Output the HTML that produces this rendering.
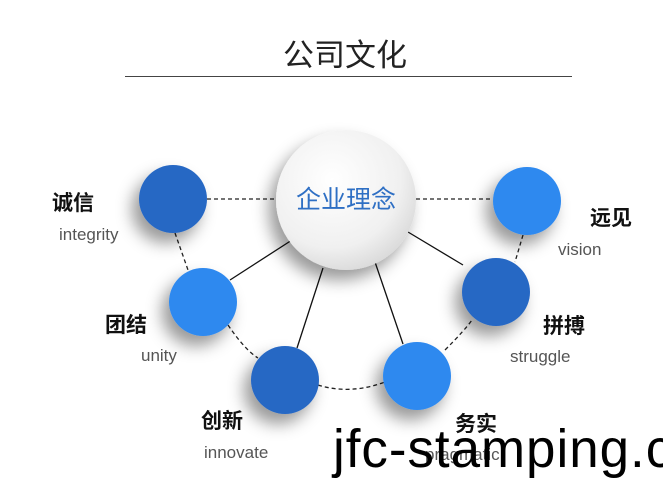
<!DOCTYPE html>
<html><head><meta charset="utf-8"><style>
html,body{margin:0;padding:0;background:#fff;width:663px;height:502px;overflow:hidden;position:relative;font-family:"Liberation Sans","Noto Sans CJK SC",sans-serif}
.t{position:absolute;white-space:nowrap}
.cn{font-size:21px;color:#111;font-weight:bold}
.en{font-size:17px;color:#555}
</style></head><body>
<div class="t" style="left:0;width:690px;text-align:center;top:30px;font-size:31px;color:#222">公司文化</div>
<div style="position:absolute;left:125px;top:76px;width:447px;height:1px;background:#444"></div>
<svg width="663" height="502" style="position:absolute;left:0;top:0">
<defs>
<filter id="sh" x="-50%" y="-50%" width="200%" height="200%"><feDropShadow dx="-7" dy="10" stdDeviation="8" flood-color="#000" flood-opacity="0.4"/></filter>
<radialGradient id="g" cx="40%" cy="35%" r="70%"><stop offset="0" stop-color="#ffffff"/><stop offset="0.7" stop-color="#f0f0f0"/><stop offset="1" stop-color="#d8d8d8"/></radialGradient>
</defs>
<g stroke="#222" stroke-width="1.3" stroke-dasharray="4,3" fill="none">
<line x1="207" y1="199" x2="276" y2="199"/><line x1="416" y1="199" x2="493" y2="199"/>
<path d="M175 233 L188 270"/><path d="M228 325 Q245 350 258 358"/>
<path d="M318 385 Q350 395 385 382"/><path d="M445 350 Q465 330 472 320"/>
<path d="M523 235 L515 262"/>
</g>
<g stroke="#111" stroke-width="1.3">
<line x1="230" y1="280" x2="292" y2="240"/><line x1="297" y1="348" x2="323" y2="268"/>
<line x1="403" y1="344" x2="375" y2="262"/><line x1="463" y1="265" x2="408" y2="232"/>
</g>
<g filter="url(#sh)">
<circle cx="173" cy="199" r="34" fill="#2767c4"/>
<circle cx="203" cy="302" r="34" fill="#2f89ef"/>
<circle cx="285" cy="380" r="34" fill="#2767c4"/>
<circle cx="417" cy="376" r="34" fill="#2f89ef"/>
<circle cx="496" cy="292" r="34" fill="#2767c4"/>
<circle cx="527" cy="201" r="34" fill="#2f89ef"/>
<circle cx="346" cy="200" r="70" fill="url(#g)"/>
</g>
</svg>
<div class="t" style="left:296px;top:180px;font-size:25px;color:#2e6fc4">企业理念</div>
<div class="t cn" style="left:52px;top:187px">诚信</div><div class="t en" style="left:59px;top:225px">integrity</div>
<div class="t cn" style="left:105px;top:309px">团结</div><div class="t en" style="left:141px;top:346px">unity</div>
<div class="t cn" style="left:201px;top:405px">创新</div><div class="t en" style="left:204px;top:443px">innovate</div>
<div class="t cn" style="left:455px;top:408px">务实</div><div class="t en" style="left:425px;top:445px">pragmatic</div>
<div class="t cn" style="left:543px;top:310px">拼搏</div><div class="t en" style="left:510px;top:347px">struggle</div>
<div class="t cn" style="left:590px;top:202px">远见</div><div class="t en" style="left:558px;top:240px">vision</div>
<div class="t" style="left:333px;top:418px;font-size:54px;color:#000;letter-spacing:1px;transform:scaleX(0.98);transform-origin:left top">jfc-stamping.c</div>
</body></html>
